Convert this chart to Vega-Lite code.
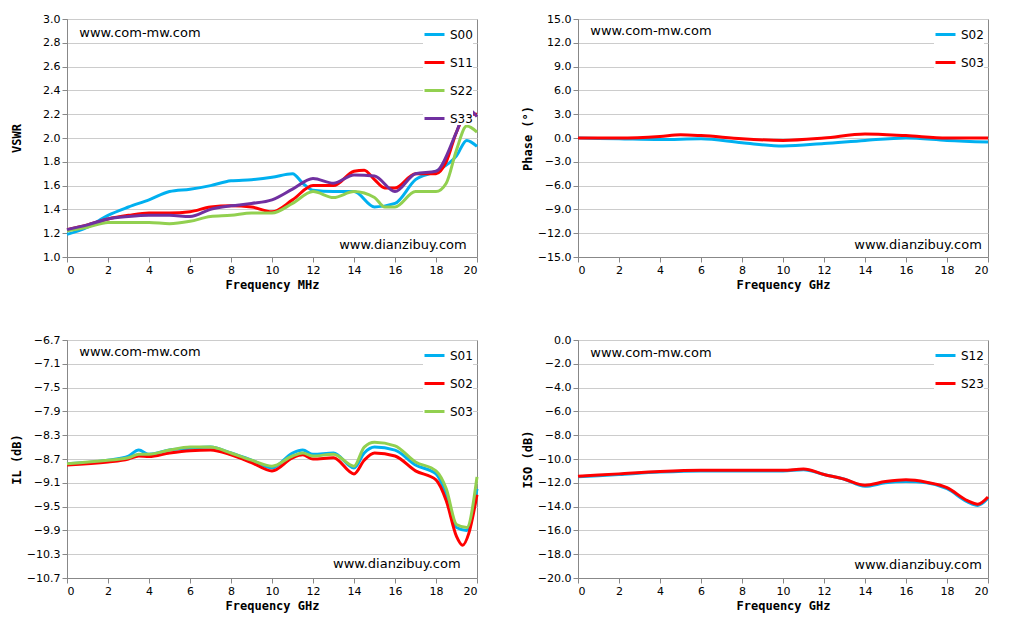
{
  "$schema": "https://vega.github.io/schema/vega-lite/v6.json",
  "background": "white",
  "padding": {"left": 9, "top": 12, "right": 5, "bottom": 5},
  "columns": 2,
  "spacing": {"row": 42, "column": 36},
  "config": {
    "font": "DejaVu Sans",
    "view": {"stroke": "#888"},
    "axis": {"labelFont": "DejaVu Sans", "labelFontSize": 11, "labelColor": "#000", "labelOverlap": false, "titleFont": "DejaVu Sans Mono", "titleFontSize": 12, "titleFontWeight": "bold", "titleColor": "#000", "domainColor": "#888", "tickColor": "#888", "gridColor": "#ccc"},
    "axisY": {"minExtent": 40, "maxExtent": 40, "tickCount": 11, "labelOverlap": false},
    "legend": {"labelFont": "DejaVu Sans", "labelFontSize": 12, "labelColor": "#000", "symbolType": "stroke", "symbolStrokeWidth": 4, "symbolSize": 400, "rowPadding": 10, "fillColor": "white"},
    "line": {"strokeWidth": 3, "interpolate": "monotone"}
  },
  "resolve": {"scale": {"color": "independent"}},
  "datasets": {
    "one": [{}],
    "vswr": [
      {"s":"S00","f":0,"v":1.19},{"s":"S00","f":1,"v":1.25},{"s":"S00","f":2,"v":1.35},{"s":"S00","f":3,"v":1.42},{"s":"S00","f":4,"v":1.48},{"s":"S00","f":5,"v":1.55},{"s":"S00","f":6,"v":1.57},{"s":"S00","f":7,"v":1.6},{"s":"S00","f":8,"v":1.64},{"s":"S00","f":9,"v":1.65},{"s":"S00","f":10,"v":1.67},{"s":"S00","f":11,"v":1.7},{"s":"S00","f":11.5,"v":1.62},{"s":"S00","f":12,"v":1.56},{"s":"S00","f":13,"v":1.55},{"s":"S00","f":14,"v":1.55},{"s":"S00","f":15,"v":1.42},{"s":"S00","f":16,"v":1.45},{"s":"S00","f":17,"v":1.65},{"s":"S00","f":18,"v":1.72},{"s":"S00","f":19,"v":1.85},{"s":"S00","f":19.5,"v":1.98},{"s":"S00","f":20,"v":1.93},
      {"s":"S11","f":0,"v":1.23},{"s":"S11","f":1,"v":1.27},{"s":"S11","f":2,"v":1.32},{"s":"S11","f":3,"v":1.35},{"s":"S11","f":4,"v":1.37},{"s":"S11","f":5,"v":1.37},{"s":"S11","f":6,"v":1.38},{"s":"S11","f":7,"v":1.42},{"s":"S11","f":8,"v":1.43},{"s":"S11","f":9,"v":1.42},{"s":"S11","f":10,"v":1.38},{"s":"S11","f":11,"v":1.48},{"s":"S11","f":12,"v":1.6},{"s":"S11","f":13,"v":1.6},{"s":"S11","f":14,"v":1.72},{"s":"S11","f":14.5,"v":1.73},{"s":"S11","f":15,"v":1.65},{"s":"S11","f":15.5,"v":1.58},{"s":"S11","f":16,"v":1.58},{"s":"S11","f":17,"v":1.7},{"s":"S11","f":18,"v":1.7},{"s":"S11","f":18.5,"v":1.8},{"s":"S11","f":19,"v":2.05},{"s":"S11","f":19.5,"v":2.2},{"s":"S11","f":20,"v":2.2},
      {"s":"S22","f":0,"v":1.22},{"s":"S22","f":1,"v":1.25},{"s":"S22","f":2,"v":1.29},{"s":"S22","f":3,"v":1.29},{"s":"S22","f":4,"v":1.29},{"s":"S22","f":5,"v":1.28},{"s":"S22","f":6,"v":1.3},{"s":"S22","f":7,"v":1.34},{"s":"S22","f":8,"v":1.35},{"s":"S22","f":9,"v":1.37},{"s":"S22","f":10,"v":1.37},{"s":"S22","f":11,"v":1.45},{"s":"S22","f":12,"v":1.55},{"s":"S22","f":13,"v":1.5},{"s":"S22","f":14,"v":1.55},{"s":"S22","f":15,"v":1.5},{"s":"S22","f":15.5,"v":1.42},{"s":"S22","f":16,"v":1.42},{"s":"S22","f":17,"v":1.55},{"s":"S22","f":18,"v":1.55},{"s":"S22","f":18.5,"v":1.62},{"s":"S22","f":19,"v":1.9},{"s":"S22","f":19.5,"v":2.1},{"s":"S22","f":20,"v":2.05},
      {"s":"S33","f":0,"v":1.23},{"s":"S33","f":1,"v":1.27},{"s":"S33","f":2,"v":1.32},{"s":"S33","f":3,"v":1.34},{"s":"S33","f":4,"v":1.35},{"s":"S33","f":5,"v":1.35},{"s":"S33","f":6,"v":1.34},{"s":"S33","f":7,"v":1.4},{"s":"S33","f":8,"v":1.43},{"s":"S33","f":9,"v":1.45},{"s":"S33","f":10,"v":1.48},{"s":"S33","f":11,"v":1.57},{"s":"S33","f":12,"v":1.66},{"s":"S33","f":13,"v":1.62},{"s":"S33","f":14,"v":1.69},{"s":"S33","f":15,"v":1.68},{"s":"S33","f":16,"v":1.55},{"s":"S33","f":17,"v":1.7},{"s":"S33","f":18,"v":1.72},{"s":"S33","f":19,"v":2.05},{"s":"S33","f":19.5,"v":2.25},{"s":"S33","f":20,"v":2.18}
    ],
    "phase": [
      {"s":"S02","f":0,"v":0},{"s":"S02","f":2,"v":-0.1},{"s":"S02","f":4,"v":-0.2},{"s":"S02","f":6,"v":-0.1},{"s":"S02","f":8,"v":-0.6},{"s":"S02","f":10,"v":-1.0},{"s":"S02","f":12,"v":-0.7},{"s":"S02","f":14,"v":-0.3},{"s":"S02","f":16,"v":0},{"s":"S02","f":18,"v":-0.3},{"s":"S02","f":20,"v":-0.5},
      {"s":"S03","f":0,"v":0},{"s":"S03","f":2,"v":0},{"s":"S03","f":4,"v":0.2},{"s":"S03","f":5,"v":0.4},{"s":"S03","f":6,"v":0.3},{"s":"S03","f":8,"v":-0.1},{"s":"S03","f":10,"v":-0.3},{"s":"S03","f":12,"v":0},{"s":"S03","f":14,"v":0.5},{"s":"S03","f":16,"v":0.3},{"s":"S03","f":18,"v":0},{"s":"S03","f":20,"v":0}
    ],
    "il": [
      {"s":"S01","f":0,"v":-8.78},{"s":"S01","f":2,"v":-8.72},{"s":"S01","f":3,"v":-8.65},{"s":"S01","f":3.5,"v":-8.55},{"s":"S01","f":4,"v":-8.62},{"s":"S01","f":5,"v":-8.55},{"s":"S01","f":6,"v":-8.52},{"s":"S01","f":7,"v":-8.5},{"s":"S01","f":8,"v":-8.6},{"s":"S01","f":9,"v":-8.72},{"s":"S01","f":10,"v":-8.85},{"s":"S01","f":11,"v":-8.6},{"s":"S01","f":11.5,"v":-8.55},{"s":"S01","f":12,"v":-8.62},{"s":"S01","f":13,"v":-8.6},{"s":"S01","f":14,"v":-8.85},{"s":"S01","f":14.5,"v":-8.6},{"s":"S01","f":15,"v":-8.5},{"s":"S01","f":16,"v":-8.55},{"s":"S01","f":17,"v":-8.8},{"s":"S01","f":18,"v":-8.95},{"s":"S01","f":18.5,"v":-9.3},{"s":"S01","f":19,"v":-9.85},{"s":"S01","f":19.5,"v":-9.9},{"s":"S01","f":20,"v":-9.2},
      {"s":"S02","f":0,"v":-8.8},{"s":"S02","f":2,"v":-8.75},{"s":"S02","f":3,"v":-8.7},{"s":"S02","f":3.5,"v":-8.65},{"s":"S02","f":4,"v":-8.66},{"s":"S02","f":5,"v":-8.6},{"s":"S02","f":6,"v":-8.56},{"s":"S02","f":7,"v":-8.55},{"s":"S02","f":8,"v":-8.63},{"s":"S02","f":9,"v":-8.76},{"s":"S02","f":10,"v":-8.9},{"s":"S02","f":11,"v":-8.68},{"s":"S02","f":11.5,"v":-8.63},{"s":"S02","f":12,"v":-8.7},{"s":"S02","f":13,"v":-8.68},{"s":"S02","f":14,"v":-8.95},{"s":"S02","f":14.5,"v":-8.72},{"s":"S02","f":15,"v":-8.6},{"s":"S02","f":16,"v":-8.65},{"s":"S02","f":17,"v":-8.9},{"s":"S02","f":18,"v":-9.05},{"s":"S02","f":18.5,"v":-9.4},{"s":"S02","f":19,"v":-10.0},{"s":"S02","f":19.3,"v":-10.15},{"s":"S02","f":19.6,"v":-9.95},{"s":"S02","f":20,"v":-9.3},
      {"s":"S03","f":0,"v":-8.78},{"s":"S03","f":2,"v":-8.72},{"s":"S03","f":3,"v":-8.68},{"s":"S03","f":3.5,"v":-8.62},{"s":"S03","f":4,"v":-8.62},{"s":"S03","f":5,"v":-8.55},{"s":"S03","f":6,"v":-8.5},{"s":"S03","f":7,"v":-8.5},{"s":"S03","f":8,"v":-8.6},{"s":"S03","f":9,"v":-8.72},{"s":"S03","f":10,"v":-8.82},{"s":"S03","f":11,"v":-8.65},{"s":"S03","f":11.5,"v":-8.6},{"s":"S03","f":12,"v":-8.65},{"s":"S03","f":13,"v":-8.62},{"s":"S03","f":14,"v":-8.82},{"s":"S03","f":14.5,"v":-8.5},{"s":"S03","f":15,"v":-8.42},{"s":"S03","f":16,"v":-8.48},{"s":"S03","f":17,"v":-8.75},{"s":"S03","f":18,"v":-8.9},{"s":"S03","f":18.5,"v":-9.2},{"s":"S03","f":19,"v":-9.8},{"s":"S03","f":19.5,"v":-9.85},{"s":"S03","f":20,"v":-9.0}
    ],
    "iso": [
      {"s":"S12","f":0,"v":-11.5},{"s":"S12","f":2,"v":-11.3},{"s":"S12","f":4,"v":-11.1},{"s":"S12","f":6,"v":-11.0},{"s":"S12","f":8,"v":-11.0},{"s":"S12","f":10,"v":-11.0},{"s":"S12","f":11,"v":-10.9},{"s":"S12","f":12,"v":-11.3},{"s":"S12","f":13,"v":-11.7},{"s":"S12","f":14,"v":-12.3},{"s":"S12","f":15,"v":-12.0},{"s":"S12","f":16,"v":-11.9},{"s":"S12","f":17,"v":-12.0},{"s":"S12","f":18,"v":-12.5},{"s":"S12","f":19,"v":-13.6},{"s":"S12","f":19.5,"v":-13.9},{"s":"S12","f":20,"v":-13.3},
      {"s":"S23","f":0,"v":-11.45},{"s":"S23","f":2,"v":-11.25},{"s":"S23","f":4,"v":-11.05},{"s":"S23","f":6,"v":-10.95},{"s":"S23","f":8,"v":-10.95},{"s":"S23","f":10,"v":-10.95},{"s":"S23","f":11,"v":-10.85},{"s":"S23","f":12,"v":-11.3},{"s":"S23","f":13,"v":-11.7},{"s":"S23","f":14,"v":-12.2},{"s":"S23","f":15,"v":-11.9},{"s":"S23","f":16,"v":-11.75},{"s":"S23","f":17,"v":-11.95},{"s":"S23","f":18,"v":-12.4},{"s":"S23","f":19,"v":-13.5},{"s":"S23","f":19.5,"v":-13.8},{"s":"S23","f":20,"v":-13.2}
    ]
  },
  "concat": [
    {
      "width": 410, "height": 238,
      "layer": [
        {"data": {"name": "vswr"}, "mark": "line",
         "encoding": {
           "x": {"field": "f", "type": "quantitative", "title": "Frequency MHz", "scale": {"domain": [0, 20], "nice": false}, "axis": {"values": [0,2,4,6,8,10,12,14,16,18,20], "grid": false}},
           "y": {"field": "v", "type": "quantitative", "title": "VSWR", "scale": {"domain": [1, 3], "nice": false}, "axis": {"values": [1,1.2,1.4,1.6,1.8,2,2.2,2.4,2.6,2.8,3], "format": ".1f", "labelOverlap": false}},
           "color": {"field": "s", "type": "nominal", "scale": {"domain": ["S00","S11","S22","S33"], "range": ["#00B0F0","#FF0000","#92D050","#7030A0"]}, "legend": {"title": null, "orient": "top-right", "offset": 4}}
         }},
        {"data": {"name": "one"}, "mark": {"type": "text", "align": "left", "fontSize": 13}, "encoding": {"x": {"datum": 0.6}, "y": {"datum": 2.88}, "text": {"value": "www.com-mw.com"}}},
        {"data": {"name": "one"}, "mark": {"type": "text", "align": "right", "fontSize": 13}, "encoding": {"x": {"datum": 19.5}, "y": {"datum": 1.1}, "text": {"value": "www.dianzibuy.com"}}}
      ]
    },
    {
      "width": 410, "height": 238,
      "layer": [
        {"data": {"name": "phase"}, "mark": "line",
         "encoding": {
           "x": {"field": "f", "type": "quantitative", "title": "Frequency GHz", "scale": {"domain": [0, 20], "nice": false}, "axis": {"values": [0,2,4,6,8,10,12,14,16,18,20], "grid": false}},
           "y": {"field": "v", "type": "quantitative", "title": "Phase (°)", "scale": {"domain": [-15, 15], "nice": false}, "axis": {"values": [-15,-12,-9,-6,-3,0,3,6,9,12,15], "format": ".1f", "labelOverlap": false}},
           "color": {"field": "s", "type": "nominal", "scale": {"domain": ["S02","S03"], "range": ["#00B0F0","#FF0000"]}, "legend": {"title": null, "orient": "top-right", "offset": 4}}
         }},
        {"data": {"name": "one"}, "mark": {"type": "text", "align": "left", "fontSize": 13}, "encoding": {"x": {"datum": 0.6}, "y": {"datum": 13.5}, "text": {"value": "www.com-mw.com"}}},
        {"data": {"name": "one"}, "mark": {"type": "text", "align": "right", "fontSize": 13}, "encoding": {"x": {"datum": 19.7}, "y": {"datum": -13.5}, "text": {"value": "www.dianzibuy.com"}}}
      ]
    },
    {
      "width": 410, "height": 238,
      "layer": [
        {"data": {"name": "il"}, "mark": "line",
         "encoding": {
           "x": {"field": "f", "type": "quantitative", "title": "Frequency GHz", "scale": {"domain": [0, 20], "nice": false}, "axis": {"values": [0,2,4,6,8,10,12,14,16,18,20], "grid": false}},
           "y": {"field": "v", "type": "quantitative", "title": "IL (dB)", "scale": {"domain": [-10.7, -6.7], "nice": false}, "axis": {"values": [-10.7,-10.3,-9.9,-9.5,-9.1,-8.7,-8.3,-7.9,-7.5,-7.1,-6.7], "format": ".1f", "labelOverlap": false}},
           "color": {"field": "s", "type": "nominal", "scale": {"domain": ["S01","S02","S03"], "range": ["#00B0F0","#FF0000","#92D050"]}, "legend": {"title": null, "orient": "top-right", "offset": 4}}
         }},
        {"data": {"name": "one"}, "mark": {"type": "text", "align": "left", "fontSize": 13}, "encoding": {"x": {"datum": 0.6}, "y": {"datum": -6.9}, "text": {"value": "www.com-mw.com"}}},
        {"data": {"name": "one"}, "mark": {"type": "text", "align": "right", "fontSize": 13}, "encoding": {"x": {"datum": 19.2}, "y": {"datum": -10.47}, "text": {"value": "www.dianzibuy.com"}}}
      ]
    },
    {
      "width": 410, "height": 238,
      "layer": [
        {"data": {"name": "iso"}, "mark": "line",
         "encoding": {
           "x": {"field": "f", "type": "quantitative", "title": "Frequency GHz", "scale": {"domain": [0, 20], "nice": false}, "axis": {"values": [0,2,4,6,8,10,12,14,16,18,20], "grid": false}},
           "y": {"field": "v", "type": "quantitative", "title": "ISO (dB)", "scale": {"domain": [-20, 0], "nice": false}, "axis": {"values": [-20,-18,-16,-14,-12,-10,-8,-6,-4,-2,0], "format": ".1f", "labelOverlap": false}},
           "color": {"field": "s", "type": "nominal", "scale": {"domain": ["S12","S23"], "range": ["#00B0F0","#FF0000"]}, "legend": {"title": null, "orient": "top-right", "offset": 4}}
         }},
        {"data": {"name": "one"}, "mark": {"type": "text", "align": "left", "fontSize": 13}, "encoding": {"x": {"datum": 0.6}, "y": {"datum": -1.1}, "text": {"value": "www.com-mw.com"}}},
        {"data": {"name": "one"}, "mark": {"type": "text", "align": "right", "fontSize": 13}, "encoding": {"x": {"datum": 19.7}, "y": {"datum": -18.9}, "text": {"value": "www.dianzibuy.com"}}}
      ]
    }
  ]
}
